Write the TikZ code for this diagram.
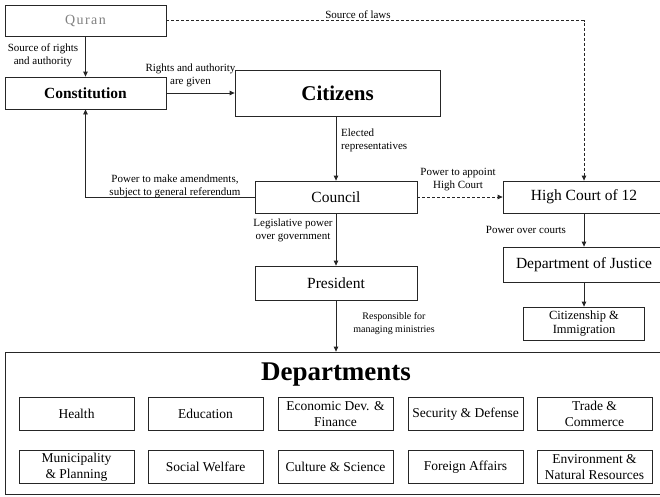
\documentclass[tikz,border=0pt]{standalone}
\usepackage{fontspec}
\setmainfont{Liberation Serif}
\usetikzlibrary{arrows.meta}
\begin{document}
\begin{tikzpicture}[x=1pt,y=-1pt,
  box/.style={draw=black!85,line width=0.8pt,rectangle,inner sep=0pt,align=center},
  lbl/.style={font=\fontsize{11}{13}\selectfont,align=center,inner sep=0pt},
  arr/.style={draw=black!85,line width=0.8pt,-{Triangle[length=5pt,width=4.5pt]}},
  dasharr/.style={arr,dash pattern=on 3pt off 2pt},
  nodefont/.style={font=\fontsize{15.5}{18}\selectfont},
  depbox/.style={box,minimum width=115pt,minimum height=33pt,font=\fontsize{13.5}{16}\selectfont}
]
\useasboundingbox (0,0) rectangle (660,496);
\clip (0,0) rectangle (660,496);
\fill[white] (0,0) rectangle (660,496);

% main nodes
\node[box,minimum width=161pt,minimum height=31pt,text=black!50,
      font=\fontsize{14}{16}\selectfont\addfontfeatures{LetterSpace=10}] (quran) at (85.5,20.5) {Quran};
\node[box,minimum width=161pt,minimum height=32pt,font=\fontsize{15.5}{18}\selectfont\bfseries] (const) at (85.5,93) {Constitution};
\node[box,minimum width=205pt,minimum height=46pt,font=\fontsize{21}{24}\selectfont\bfseries] (cit) at (337.5,93) {Citizens};
\node[box,nodefont,minimum width=162pt,minimum height=32pt] (council) at (336,197) {Council};
\node[box,nodefont,minimum width=162pt,minimum height=32pt] (hc) at (584,197) {High Court of 12};
\node[box,nodefont,minimum width=162pt,minimum height=35pt] (doj) at (584,264.5) {Department of Justice};
\node[box,font=\fontsize{12.5}{14}\selectfont,minimum width=121pt,minimum height=33pt] (cim) at (584,323.5) {Citizenship \&\\Immigration};
\node[box,nodefont,minimum width=162pt,minimum height=34pt] (pres) at (336,283) {President};

% departments container
\node[box,minimum width=662pt,minimum height=142pt] (deps) at (336,423) {};
\node[font=\fontsize{27}{30}\selectfont\bfseries,inner sep=0pt] (depttitle) at (336,375) {Departments};

\node[depbox] (d1) at (76.5,414) {Health};
\node[depbox] (d2) at (205.5,414) {Education};
\node[depbox] (d3) at (335.5,414) {Economic Dev. \&\\Finance};
\node[depbox] (d4) at (465.5,414) {Security \& Defense};
\node[depbox] (d5) at (594.5,414) {Trade \&\\Commerce};
\node[depbox] (d6) at (76.5,467) {Municipality\\\& Planning};
\node[depbox] (d7) at (205.5,467) {Social Welfare};
\node[depbox] (d8) at (335.5,467) {Culture \& Science};
\node[depbox] (d9) at (465.5,467) {Foreign Affairs};
\node[depbox] (d10) at (594.5,467) {Environment \&\\Natural Resources};

% connectors
\draw[arr] (quran) -- (const);
\draw[arr] (const) -- (cit);
\draw[arr] (council |- cit.south) -- (council.north);
\draw[arr] (council.west) -| (const.south);
\draw[dasharr] (council) -- (hc);
\draw[dasharr] (quran.east) -| (hc.north);
\draw[arr] (council) -- (pres);
\draw[arr] (hc) -- (doj);
\draw[arr] (doj) -- (cim);
\draw[arr] (pres.south) -- (pres |- deps.north);

% labels
\node[lbl] (l1) at (43,55) {Source of rights\\and authority};
\node[lbl] (l2) at (190.5,75) {Rights and authority\\are given};
\node[lbl,align=left,anchor=west] (l3) at (341,140.5) {Elected\\representatives};
\node[lbl] (l4) at (175,186) {Power to make amendments,\\subject to general referendum};
\node[lbl] (l5) at (458,179.5) {Power to appoint\\High Court};
\node[lbl] (l6) at (358,14.5) {Source of laws};
\node[lbl] (l7) at (293,230) {Legislative power\\over government};
\node[lbl] (l8) at (526,230) {Power over courts};
\node[lbl,font=\fontsize{10}{13}\selectfont] (l9) at (394,323.5) {Responsible for\\managing ministries};
\end{tikzpicture}
\end{document}
